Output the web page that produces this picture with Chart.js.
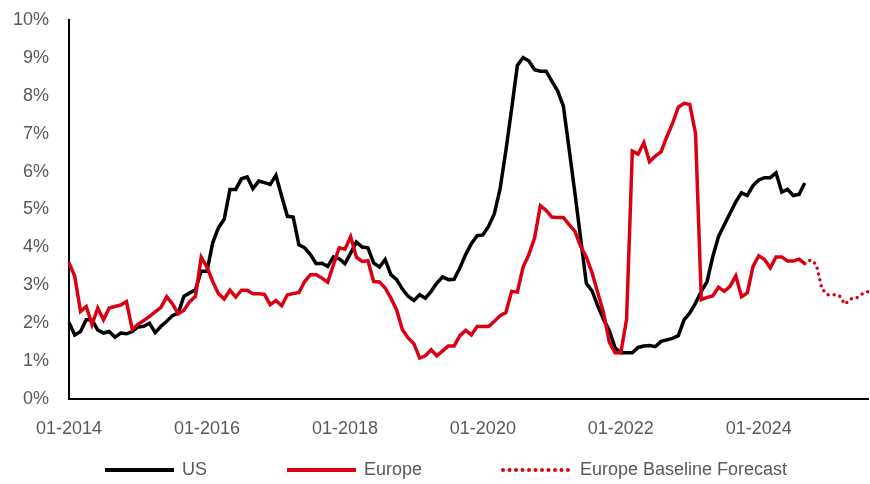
<!DOCTYPE html>
<html>
<head>
<meta charset="utf-8">
<script src="https://cdn.jsdelivr.net/npm/chart.js@4.4.1/dist/chart.umd.min.js"></script>
<style>
  html, body { margin: 0; padding: 0; background: #fff; }
  #wrap { width: 870px; height: 484px; }
</style>
</head>
<body>
<div id="wrap"><canvas id="chart" width="870" height="484"></canvas></div>
<script>
// Monthly series, 01-2014 onwards (values in %)
const startYear = 2014;
const monthCount = 140; // 01-2014 .. 08-2025
const tickLabels = ['01-2014', '01-2016', '01-2018', '01-2020', '01-2022', '01-2024'];

const usValues = [
  2.02, 1.69, 1.78, 2.09, 2.09, 1.82, 1.74, 1.78, 1.63, 1.74,
  1.72, 1.78, 1.90, 1.92, 2.00, 1.75, 1.92, 2.05, 2.20, 2.27,
  2.71, 2.80, 2.88, 3.37, 3.37, 4.12, 4.52, 4.74, 5.53, 5.53,
  5.81, 5.86, 5.55, 5.75, 5.71, 5.66, 5.90, 5.35, 4.82, 4.80,
  4.07, 3.99, 3.81, 3.57, 3.58, 3.50, 3.75, 3.70, 3.57, 3.85,
  4.14, 4.01, 3.99, 3.59, 3.48, 3.68, 3.28, 3.15, 2.90, 2.71,
  2.60, 2.75, 2.66, 2.84, 3.06, 3.22, 3.15, 3.16, 3.46, 3.81,
  4.10, 4.31, 4.33, 4.56, 4.89, 5.55, 6.55, 7.65, 8.80, 9.01,
  8.92, 8.69, 8.65, 8.65, 8.39, 8.13, 7.73, 6.60, 5.45, 4.25,
  3.05, 2.85, 2.45, 2.10, 1.80, 1.35, 1.22, 1.22, 1.22, 1.36,
  1.40, 1.41, 1.38, 1.52, 1.56, 1.60, 1.67, 2.09, 2.27, 2.53,
  2.84, 3.10, 3.76, 4.29, 4.60, 4.90, 5.20, 5.44, 5.37, 5.63,
  5.78, 5.84, 5.84, 5.97, 5.46, 5.53, 5.37, 5.40, 5.70
];

const europeValues = [
  3.60, 3.24, 2.31, 2.44, 1.96, 2.40, 2.09, 2.40, 2.44, 2.48,
  2.57, 1.84, 1.97, 2.07, 2.18, 2.30, 2.42, 2.70, 2.51, 2.25,
  2.34, 2.57, 2.71, 3.74, 3.48, 3.10, 2.78, 2.64, 2.87, 2.69,
  2.87, 2.87, 2.78, 2.78, 2.76, 2.49, 2.60, 2.46, 2.75, 2.78,
  2.81, 3.10, 3.28, 3.28, 3.19, 3.08, 3.54, 3.99, 3.95, 4.28,
  3.74, 3.63, 3.65, 3.10, 3.09, 2.93, 2.66, 2.35, 1.83, 1.61,
  1.46, 1.08, 1.14, 1.30, 1.14, 1.27, 1.40, 1.40, 1.67, 1.81,
  1.69, 1.91, 1.91, 1.91, 2.05, 2.20, 2.28, 2.84, 2.82, 3.48,
  3.81, 4.25, 5.10, 4.98, 4.80, 4.79, 4.79, 4.60, 4.43, 4.03,
  3.75, 3.33, 2.80, 2.27, 1.50, 1.22, 1.22, 2.10, 6.54, 6.46,
  6.76, 6.26, 6.41, 6.52, 6.92, 7.27, 7.70, 7.80, 7.77, 7.00,
  2.62, 2.68, 2.72, 2.95, 2.84, 2.97, 3.25, 2.70, 2.80, 3.50,
  3.78, 3.68, 3.46, 3.75, 3.75, 3.64, 3.64, 3.69, 3.57
];

// forecast starts at the last Europe month (09-2024)
const forecastStart = 128;
const forecastValues = [3.57, 3.67, 3.55, 2.90, 2.75, 2.75, 2.73, 2.50, 2.64, 2.67, 2.77, 2.83];

const FONT = "'Liberation Sans', Arial, sans-serif";
const TEXT = '#595959';
const RED = '#db0011';

const months = [];
for (let i = 0; i < monthCount; i++) {
  const y = startYear + Math.floor(i / 12);
  const m = String(i % 12 + 1).padStart(2, '0');
  months.push(`${m}-${y}`);
}

function pad(values, offset) {
  const out = new Array(monthCount).fill(null);
  values.forEach((v, i) => { out[offset + i] = v; });
  return out;
}

const legendItems = [
  { text: 'US', color: '#000', dash: [], x: 105 },
  { text: 'Europe', color: RED, dash: [], x: 287 },
  { text: 'Europe Baseline Forecast', color: RED, dash: [0, 6.5], x: 503 }
];

const bottomLegend = {
  id: 'bottomLegend',
  afterDraw(chart) {
    const ctx = chart.ctx;
    const y = 470;
    ctx.save();
    ctx.font = `18px ${FONT}`;
    ctx.textBaseline = 'middle';
    ctx.fillStyle = TEXT;
    for (const it of legendItems) {
      ctx.beginPath();
      ctx.strokeStyle = it.color;
      ctx.lineWidth = 4;
      ctx.lineCap = it.dash.length ? 'round' : 'butt';
      ctx.setLineDash(it.dash);
      ctx.moveTo(it.x, y);
      ctx.lineTo(it.x + 69, y);
      ctx.stroke();
      ctx.setLineDash([]);
      ctx.fillText(it.text, it.x + 77, y);
    }
    ctx.restore();
  }
};

const axisGrid = { display: true, drawOnChartArea: false, drawTicks: false };
const axisBorder = { display: true, color: '#000', width: 2 };

new Chart(document.getElementById('chart'), {
  type: 'line',
  data: {
    labels: months,
    datasets: [
      { label: 'US', data: pad(usValues, 0), borderColor: '#000', borderWidth: 3.5, pointRadius: 0, order: 3 },
      { label: 'Europe', data: pad(europeValues, 0), borderColor: RED, borderWidth: 3.5, pointRadius: 0, order: 2 },
      { label: 'Europe Baseline Forecast', data: pad(forecastValues, forecastStart), borderColor: RED,
        borderWidth: 3.5, borderDash: [0, 6], borderCapStyle: 'round', pointRadius: 0, order: 1 }
    ]
  },
  options: {
    responsive: false,
    animation: false,
    layout: { padding: { top: 20, right: 2, bottom: 0, left: 0 } },
    plugins: { legend: { display: false }, tooltip: { enabled: false } },
    scales: {
      x: {
        grid: axisGrid,
        border: axisBorder,
        ticks: {
          autoSkip: false, maxRotation: 0, minRotation: 0, padding: 19,
          color: TEXT, font: { family: FONT, size: 18 },
          callback: (v, i) => tickLabels.includes(months[i]) ? months[i] : ''
        },
        afterFit: s => { s.height = 85; s.paddingLeft = 0; s.paddingRight = 0; }
      },
      y: {
        min: 0, max: 10,
        grid: axisGrid,
        border: axisBorder,
        ticks: {
          stepSize: 1, padding: 20,
          color: TEXT, font: { family: FONT, size: 18 },
          callback: v => v + '%'
        },
        afterFit: s => { s.width = 69; s.paddingTop = 0; s.paddingBottom = 0; }
      }
    }
  },
  plugins: [bottomLegend]
});
</script>
</body>
</html>
